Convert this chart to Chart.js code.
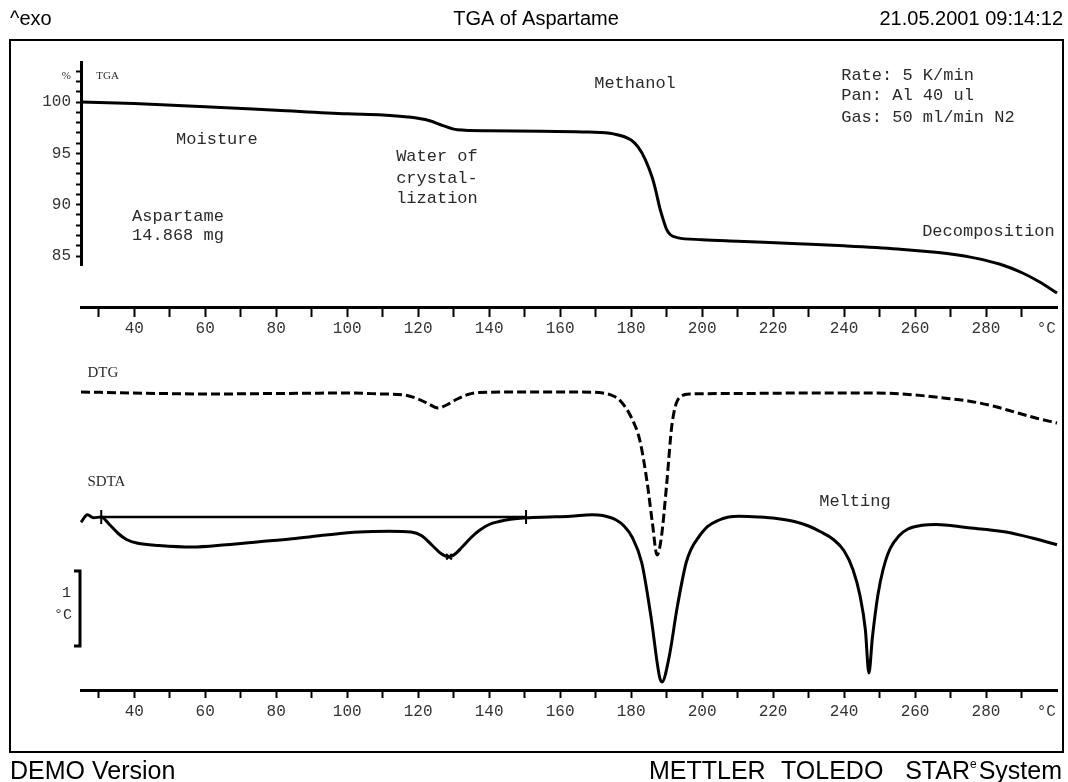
<!DOCTYPE html>
<html>
<head>
<meta charset="utf-8">
<title>TGA of Aspartame</title>
<script src="https://cdn.jsdelivr.net/npm/chart.js"></script>
<style>
  html, body { margin: 0; padding: 0; background: #fff; }
  #wrap { width: 1068px; height: 782px; }
</style>
</head>
<body>
<div id="wrap"><canvas id="tga" width="1068" height="782"></canvas></div>
<script>
// TGA: sample mass in % of the 14.868 mg start value
const tgaTemps = [25, 40, 60, 80, 100, 110, 117, 123, 127, 131, 140, 155, 168, 175, 180, 182, 184, 186, 187, 188, 189, 190, 191, 193, 200, 210, 227, 240, 255, 265, 270, 277, 284, 290, 295, 300];
const tgaMass  = [100.0, 99.85, 99.55, 99.2, 98.85, 98.75, 98.55, 98.2, 97.7, 97.3, 97.2, 97.15, 97.08, 96.9, 96.3, 95.6, 94.4, 92.6, 91.3, 89.8, 88.6, 87.6, 87.1, 86.8, 86.6, 86.45, 86.2, 86.0, 85.7, 85.4, 85.2, 84.8, 84.2, 83.4, 82.5, 81.4];

// DTG: first derivative of the TGA curve, %/°C
const dtgTemps = [25, 40, 60, 80, 100, 110, 116, 120, 123, 125.6, 128, 131, 134, 137, 150, 165, 172, 175, 177, 180, 182.5, 184.5, 186, 187.3, 188.5, 190, 191.5, 193.5, 196.6, 210, 230, 249, 260, 268, 275, 282, 288, 294, 300];
const dtgRate  = [0.01, 0, -0.01, -0.005, 0, -0.01, -0.02, -0.06, -0.11, -0.15, -0.12, -0.06, -0.015, 0.005, 0.01, 0.01, 0, -0.03, -0.08, -0.24, -0.48, -0.89, -1.3, -1.62, -1.45, -0.92, -0.32, -0.05, -0.01, -0.005, 0, 0, -0.02, -0.05, -0.08, -0.13, -0.19, -0.25, -0.30];

// SDTA: temperature difference signal, °C
const sdtaTemps  = [25, 26.8, 28.5, 30.7, 33, 35.5, 37.8, 41, 47, 56.3, 65.9, 75.2, 84.5, 94, 103.4, 111.8, 118, 121, 124, 126.5, 128.7, 130.5, 132.4, 135, 137.2, 140, 142.8, 146, 150.4, 157, 163, 169, 172, 175.8, 178, 180.3, 183, 185.6, 188, 188.7, 190.7, 193, 195.5, 197, 199, 201.5, 204.8, 207.5, 210.4, 216, 221, 226, 230, 233.5, 237, 240, 242.5, 244.5, 246, 247, 248, 249.5, 251, 253, 255.5, 258, 262, 266, 274.4, 285.6, 293, 300];
const sdtaSignal = [-0.07, 0.03, -0.01, 0.0, -0.1, -0.22, -0.3, -0.35, -0.38, -0.4, -0.37, -0.33, -0.29, -0.24, -0.2, -0.19, -0.2, -0.25, -0.38, -0.49, -0.53, -0.49, -0.4, -0.27, -0.18, -0.1, -0.06, -0.03, -0.01, 0.0, 0.01, 0.03, 0.02, -0.04, -0.12, -0.27, -0.61, -1.33, -2.13, -2.2, -1.87, -1.2, -0.61, -0.42, -0.27, -0.13, -0.04, 0.0, 0.01, 0.0, -0.02, -0.06, -0.12, -0.2, -0.3, -0.45, -0.7, -1.05, -1.5, -2.08, -1.6, -1.05, -0.7, -0.42, -0.25, -0.16, -0.11, -0.1, -0.14, -0.2, -0.28, -0.37];

// integration baseline limits and the evaluated peak of the first SDTA effect
const baseTemps  = [30.7, 150.4];
const baseSignal = [0, 0];
const peakTemps  = [128.7];
const peakSignal = [-0.53];

// axis ticks
const tempTicks  = [30, 40, 50, 60, 70, 80, 90, 100, 110, 120, 130, 140, 150, 160, 170, 180, 190, 200, 210, 220, 230, 240, 250, 260, 270, 280, 290];
const tempLabels = ['40', '60', '80', '100', '120', '140', '160', '180', '200', '220', '240', '260', '280'];
const unitTick   = 297;          // where the °C unit sits on the temperature axis
const massTicks  = [85, 86, 87, 88, 89, 90, 91, 92, 93, 94, 95, 96, 97, 98, 99, 100, 101, 102, 103];
const massLabels = ['85', '90', '95', '100'];
const pctTick    = 102.55;

const MONO  = '"Liberation Mono", "DejaVu Sans Mono", monospace';
const SERIF = '"Liberation Serif", "DejaVu Serif", serif';
const SANS  = '"Liberation Sans", Arial, sans-serif';

const pts = (xs, ys) => xs.map((x, i) => ({ x, y: ys[i] }));

// text notes placed in data units (temperature, value on the named axis)
const notes = [
  { axis: 'yTga', x: 29.3,  y: 102.54, text: 'TGA', font: '11px ' + SERIF },
  { axis: 'yTga', x: 51.8,  y: 96.4,  text: 'Moisture' },
  { axis: 'yTga', x: 39.4,  y: 88.9,  text: 'Aspartame' },
  { axis: 'yTga', x: 39.4,  y: 87.0,  text: '14.868 mg' },
  { axis: 'yTga', x: 113.8, y: 94.65, text: 'Water of' },
  { axis: 'yTga', x: 113.8, y: 92.6,  text: 'crystal-' },
  { axis: 'yTga', x: 113.8, y: 90.6,  text: 'lization' },
  { axis: 'yTga', x: 169.6, y: 101.76, text: 'Methanol' },
  { axis: 'yTga', x: 239.2, y: 102.63, text: 'Rate: 5 K/min' },
  { axis: 'yTga', x: 239.2, y: 100.6, text: 'Pan: Al 40 ul' },
  { axis: 'yTga', x: 239.2, y: 98.54, text: 'Gas: 50 ml/min N2' },
  { axis: 'yTga', x: 262,   y: 87.35, text: 'Decomposition' },
  { axis: 'yDtg', x: 26.8,  y: 0.2,   text: 'DTG', font: '15px ' + SERIF },
  { axis: 'ySdta', x: 26.8, y: 0.47,  text: 'SDTA', font: '15px ' + SERIF },
  { axis: 'ySdta', x: 233,  y: 0.2,   text: 'Melting' }
];

const sheet = {
  id: 'sheet',
  beforeDraw(chart) {
    const ctx = chart.ctx;
    ctx.save();
    ctx.fillStyle = '#fff';
    ctx.fillRect(0, 0, chart.width, chart.height);
    ctx.strokeStyle = '#000';
    ctx.lineWidth = 2;
    ctx.strokeRect(10, 40, 1053, 712);
    ctx.restore();
  },
  afterDraw(chart) {
    const ctx = chart.ctx;
    const xs = chart.scales.x;
    ctx.save();
    ctx.fillStyle = '#2a2a2a';
    ctx.textBaseline = 'middle';
    ctx.textAlign = 'left';
    notes.forEach(n => {
      ctx.font = n.font || ('17px ' + MONO);
      ctx.fillText(n.text, xs.getPixelForValue(n.x), chart.scales[n.axis].getPixelForValue(n.y));
    });

    // 1 °C scale bar for the SDTA signal
    const sd = chart.scales.ySdta;
    const top = sd.getPixelForValue(-0.72);
    const bot = sd.getPixelForValue(-1.72);
    const bx = chart.chartArea.left - 1;
    ctx.strokeStyle = '#000';
    ctx.lineWidth = 3;
    ctx.beginPath();
    ctx.moveTo(bx - 6, top);
    ctx.lineTo(bx, top);
    ctx.lineTo(bx, bot);
    ctx.lineTo(bx - 6, bot);
    ctx.stroke();
    ctx.textAlign = 'right';
    ctx.font = '15px ' + MONO;
    ctx.fillText('1', bx - 9, top + 22);
    ctx.fillText('°C', bx - 8, top + 44);

    // header and footer
    ctx.fillStyle = '#000';
    ctx.textBaseline = 'alphabetic';
    ctx.font = '20px ' + SANS;
    ctx.textAlign = 'left';
    ctx.fillText('^exo', 10, 25);
    ctx.textAlign = 'center';
    ctx.fillText('TGA of Aspartame', 536, 25);
    ctx.textAlign = 'right';
    ctx.fillText('21.05.2001 09:14:12', 1063, 25);

    ctx.font = '25px ' + SANS;
    ctx.textAlign = 'left';
    ctx.fillText('DEMO Version', 10, 779);
    ctx.fillText('METTLER', 649, 779);
    ctx.fillText('TOLEDO', 781, 779);
    ctx.textAlign = 'right';
    ctx.fillText('System', 1062, 779);
    const sysLeft = 1062 - ctx.measureText('System').width;
    ctx.font = '12px ' + SANS;
    const eLeft = sysLeft - 2 - ctx.measureText('e').width;
    ctx.fillText('e', sysLeft - 2, 768);
    ctx.font = '25px ' + SANS;
    ctx.fillText('STAR', eLeft, 779);
    ctx.restore();
  }
};

function tempAxis(position) {
  return {
    type: 'linear',
    position,
    min: 25,
    max: 300,
    afterBuildTicks: s => { s.ticks = tempTicks.concat([unitTick]).map(v => ({ value: v })); },
    afterFit: s => { s.height = 30; },
    border: { display: true, width: 3, color: '#000' },
    grid: {
      drawOnChartArea: false,
      tickLength: 8,
      tickWidth: 2,
      tickColor: c => (c.tick && c.tick.value === unitTick ? 'rgba(0,0,0,0)' : '#000')
    },
    ticks: {
      autoSkip: false,
      maxRotation: 0,
      padding: 4,
      color: '#333',
      font: { family: MONO, size: 16 },
      callback: v => (v === unitTick ? '°C' : (tempLabels.includes(String(v)) ? String(v) : ''))
    }
  };
}

new Chart(document.getElementById('tga'), {
  type: 'line',
  data: {
    datasets: [
      {
        label: 'TGA', data: pts(tgaTemps, tgaMass), xAxisID: 'x', yAxisID: 'yTga',
        borderColor: '#000', borderWidth: 3, pointRadius: 0, cubicInterpolationMode: 'monotone', clip: false
      },
      {
        label: 'DTG', data: pts(dtgTemps, dtgRate), xAxisID: 'x', yAxisID: 'yDtg',
        borderColor: '#000', borderWidth: 3, borderDash: [9, 4], pointRadius: 0, cubicInterpolationMode: 'monotone', clip: false
      },
      {
        label: 'SDTA', data: pts(sdtaTemps, sdtaSignal), xAxisID: 'x', yAxisID: 'ySdta',
        borderColor: '#000', borderWidth: 3, pointRadius: 0, cubicInterpolationMode: 'monotone', clip: false
      },
      {
        label: 'Baseline', data: pts(baseTemps, baseSignal), xAxisID: 'x', yAxisID: 'ySdta',
        borderColor: '#000', borderWidth: 2.5, pointStyle: 'line', rotation: 90, pointRadius: 7,
        pointBorderWidth: 2, pointBorderColor: '#000', clip: false
      },
      {
        label: 'Peak', data: pts(peakTemps, peakSignal), xAxisID: 'x', yAxisID: 'ySdta', showLine: false,
        pointStyle: 'crossRot', pointRadius: 4, pointBorderWidth: 2, pointBorderColor: '#000', clip: false
      }
    ]
  },
  options: {
    responsive: false,
    animation: false,
    events: [],
    devicePixelRatio: 1,
    layout: { padding: { left: 10, right: 11, top: 62, bottom: 62 } },
    plugins: { legend: { display: false }, tooltip: { enabled: false }, title: { display: false } },
    scales: {
      x: tempAxis('bottom'),
      xTop: tempAxis({ yTga: 80 }),
      yPad: { type: 'linear', position: 'left', stack: 'left', stackWeight: 425, display: false },
      yTga: {
        type: 'linear', position: 'left', stack: 'left', stackWeight: 203,
        min: 84.13, max: 103.9,
        afterBuildTicks: s => { s.ticks = massTicks.concat([pctTick]).map(v => ({ value: v })); },
        afterFit: s => { s.width = 71; },
        border: { display: true, width: 3, color: '#000' },
        grid: {
          drawOnChartArea: false, tickLength: 5, tickWidth: 2,
          tickColor: c => (c.tick && c.tick.value === pctTick ? 'rgba(0,0,0,0)' : '#000')
        },
        ticks: {
          autoSkip: false, padding: 5, color: '#333',
          font: c => (c.tick && c.tick.value === pctTick ? { family: SERIF, size: 11 } : { family: MONO, size: 16 }),
          callback: v => (v === pctTick ? '%' : (massLabels.includes(String(v)) ? String(v) : ''))
        }
      },
      yDtg:  { type: 'linear', position: 'right', display: false, min: -2.97, max: 3.31 },
      ySdta: { type: 'linear', position: 'right', display: false, min: -2.3067, max: 6.0667 }
    }
  },
  plugins: [sheet]
});
</script>
</body>
</html>
